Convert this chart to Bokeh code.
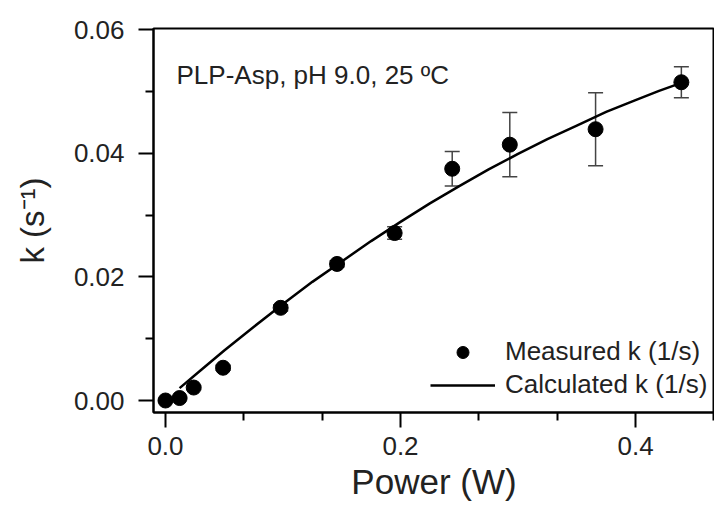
from bokeh.plotting import figure
from bokeh.models import (ColumnDataSource, Whisker, TeeHead, FixedTicker, Legend, LegendItem,
                          Label, Range1d, NumeralTickFormatter)
from bokeh.embed import file_html
from bokeh.resources import INLINE

# Measured data
power = [0.0, 0.012, 0.024, 0.049, 0.098, 0.146, 0.195, 0.244, 0.293, 0.366, 0.439]
k_measured = [0.0000, 0.0004, 0.0021, 0.0053, 0.0150, 0.0221, 0.0271, 0.0375, 0.0414, 0.0439, 0.0515]
k_error = [0.0002, 0.0002, 0.0003, 0.0004, 0.0005, 0.0005, 0.0010, 0.0028, 0.0052, 0.0059, 0.0025]

# Calculated curve
power_calc = [0.012, 0.030, 0.050, 0.075, 0.100, 0.125, 0.150, 0.175, 0.200, 0.225, 0.250,
              0.275, 0.300, 0.325, 0.350, 0.375, 0.400, 0.420, 0.439]
k_calc = [0.0020, 0.0049, 0.0081, 0.0119, 0.0156, 0.0192, 0.0225, 0.0258, 0.0289, 0.0319, 0.0347,
          0.0374, 0.0399, 0.0423, 0.0445, 0.0467, 0.0486, 0.0501, 0.0514]

x_major = [0.0, 0.2, 0.4]
x_minor = [0.0667, 0.1333, 0.2667, 0.3333, 0.4667]
y_major = [0.00, 0.02, 0.04, 0.06]
y_minor = [0.01, 0.03, 0.05]

FONT = "Liberation Sans"
TXT = "#222222"

p = figure(width=714, height=514, output_backend="svg", toolbar_location=None,
           x_range=Range1d(-0.0102, 0.4672), y_range=Range1d(-0.00194, 0.0602),
           min_border_left=153, min_border_right=0, min_border_top=28, min_border_bottom=102)
p.grid.visible = False
p.outline_line_color = "black"
p.outline_line_width = 2
p.outline_line_alpha = 1.0

src = ColumnDataSource(dict(x=power, y=k_measured,
                            upper=[a + b for a, b in zip(k_measured, k_error)],
                            lower=[a - b for a, b in zip(k_measured, k_error)]))

wh = Whisker(source=src, base="x", upper="upper", lower="lower",
             line_color="#444444", line_width=1.5,
             upper_head=TeeHead(size=15, line_color="#444444", line_width=1.5),
             lower_head=TeeHead(size=15, line_color="#444444", line_width=1.5),
             level="underlay")
p.add_layout(wh)

line_r = p.line(power_calc, k_calc, line_color="black", line_width=2.5)
sc = p.scatter("x", "y", source=src, size=15, fill_color="black", line_color="black")

for ax in (p.xaxis[0], p.yaxis[0]):
    ax.axis_line_width = 2
    ax.major_tick_line_width = 2
    ax.minor_tick_line_width = 2
    ax.major_tick_out = 15
    ax.major_tick_in = 0
    ax.minor_tick_out = 8
    ax.minor_tick_in = 0
    ax.major_label_text_font = FONT
    ax.major_label_text_font_size = "26px"
    ax.major_label_text_color = TXT
    ax.axis_label_text_font = FONT
    ax.axis_label_text_font_style = "normal"
    ax.axis_label_text_color = TXT

p.xaxis.ticker = FixedTicker(ticks=x_major, minor_ticks=x_minor)
p.yaxis.ticker = FixedTicker(ticks=y_major, minor_ticks=y_minor)
p.xaxis.formatter = NumeralTickFormatter(format="0.0")
p.yaxis.formatter = NumeralTickFormatter(format="0.00")
p.xaxis.major_label_standoff = 9
p.yaxis.major_label_standoff = 14
p.xaxis.axis_label = "Power (W)"
p.yaxis.axis_label = "k (s\u207b\u00b9)"
p.xaxis.axis_label_text_font_size = "35px"
p.yaxis.axis_label_text_font_size = "33px"
p.xaxis.axis_label_standoff = 4
p.yaxis.axis_label_standoff = 20

legend = Legend(items=[LegendItem(label="Measured k (1/s)", renderers=[sc]),
                       LegendItem(label="Calculated k (1/s)", renderers=[line_r])],
                location=(277, 12), padding=0, margin=0, spacing=2,
                glyph_width=65, glyph_height=30, label_height=30, label_standoff=10,
                label_text_font=FONT, label_text_font_size="26px", label_text_color=TXT,
                border_line_color=None, background_fill_alpha=0)
p.add_layout(legend)

p.add_layout(Label(x=0.0094, y=0.0526, text="PLP-Asp, pH 9.0, 25 \u00baC",
                   text_font=FONT, text_font_size="26px", text_color=TXT,
                   text_baseline="alphabetic"))

open("out.html", "w").write(file_html(p, INLINE))
